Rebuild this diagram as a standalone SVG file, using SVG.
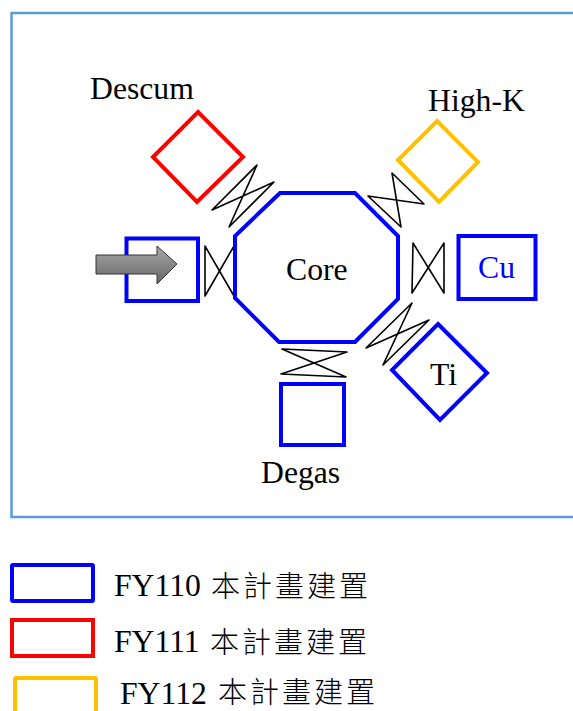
<svg xmlns="http://www.w3.org/2000/svg" width="573" height="711" viewBox="0 0 573 711">
<style>
.t{font-family:"Liberation Serif","Noto Sans CJK TC",serif;font-size:31.7px;fill:#000}
.c{font-family:"Noto Sans CJK TC","Liberation Serif",serif;font-size:29px;letter-spacing:3px;font-weight:300}
.b{fill:none;stroke:#0000ff;stroke-width:4}
.r{fill:none;stroke:#ff0000;stroke-width:4}
.o{fill:none;stroke:#ffc000;stroke-width:4}
.v{fill:none;stroke:#000;stroke-width:1.6;stroke-linejoin:round}
</style>
<defs><linearGradient id="g" x1="0" y1="0" x2="0" y2="1"><stop offset="0" stop-color="#a8a8a8"/><stop offset="1" stop-color="#666"/></linearGradient></defs>
<rect x="11.5" y="13" width="570" height="504" fill="none" stroke="#5b9bd5" stroke-width="2.5"/>
<g id="connectors">
<polygon class="v" points="257,165 229,227 274,182 212,210"/>
<polygon class="v" points="205,246 234,296 234,246 205,296"/>
<polygon class="v" points="392,173 401,227 368,196 424,204"/>
<polygon class="v" points="413,243 444,293 444,243 412,293"/>
<polygon class="v" points="412,303 383,365 429,320 366,348"/>
<polygon class="v" points="282,349 346,377 281,374 347,352"/>
</g>
<g id="core"><polygon class="b" points="280,193 355,193 398,236 398,299 355,342 279,342 235,298 235,236"/><text class="t" x="286" y="280">Core</text></g>
<g id="entry"><rect class="b" x="126.500" y="238.500" width="71.500" height="62.500"/></g>
<g id="arrow"><polygon points="96,255 157,255 157,246 177,264 157,284 157,274 96,274" fill="url(#g)" stroke="#333" stroke-width="1"/></g>
<g id="descum"><polygon class="r" points="198,112 243,157 197,202 153,157"/><text class="t" x="90" y="99">Descum</text></g>
<g id="highk"><polygon class="o" points="437,121 478,162 439,202 398,160"/><text class="t" x="428" y="111">High-K</text></g>
<g id="cu"><rect class="b" x="458.500" y="236" width="77" height="63"/><text class="t" x="478" y="278" style="fill:#0000ff">Cu</text></g>
<g id="ti"><polygon class="b" points="438,324 487,373 440,420 392,370"/><text class="t" x="430" y="385">Ti</text></g>
<g id="degas"><rect class="b" x="281" y="384" width="63" height="61"/><text class="t" x="261" y="483">Degas</text></g>
<g id="legend-110"><rect class="b" x="12" y="565" width="81" height="36" rx="1"/><text class="t" x="114" y="596">FY110</text><text class="c" x="211" y="597">本計畫建置</text></g>
<g id="legend-111"><rect class="r" x="12" y="620" width="81" height="36"/><text class="t" x="114" y="652">FY111</text><text class="c" x="210" y="653">本計畫建置</text></g>
<g id="legend-112"><rect class="o" x="15" y="678" width="81" height="38" rx="1"/><text class="t" x="120" y="704">FY112</text><text class="c" x="218" y="702.500">本計畫建置</text></g>
</svg>
